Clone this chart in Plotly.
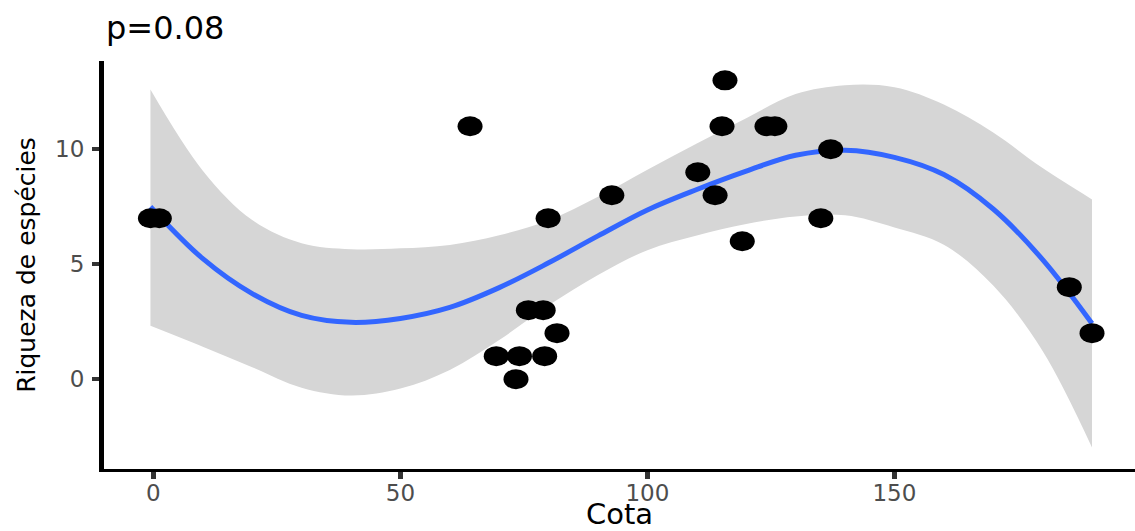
import plotly.graph_objects as go

cota = [-0.6, 1.2, 64.1, 69.4, 73.4, 74.1, 75.9, 78.9, 79.2, 79.9, 81.7, 92.8,
        110.2, 113.7, 115.1, 115.7, 119.2, 124.2, 125.8, 135.1, 137.1, 185.4, 190.0]
riqueza = [7, 7, 11, 1, 0, 1, 3, 3, 1, 7, 2, 8,
           9, 8, 11, 13, 6, 11, 11, 7, 10, 4, 2]

# Smooth curve and confidence band
fit_x = [-0.6, 10, 20, 30, 40, 50, 60, 70, 80, 90, 100, 110, 120, 130, 140, 150, 160, 170, 180, 190]
fit_y = [7.5, 5.24, 3.72, 2.77, 2.47, 2.64, 3.12, 3.98, 5.06, 6.23, 7.36, 8.25, 9.05, 9.74, 9.96,
         9.65, 8.9, 7.4, 5.2, 2.42]
fit_upper = [12.6, 9.07, 6.92, 5.91, 5.65, 5.69, 5.84, 6.26, 6.91, 7.93, 9.11, 10.25, 11.35, 12.40,
             12.79, 12.70, 11.95, 10.73, 9.18, 7.82]
fit_lower = [2.32, 1.41, 0.52, -0.37, -0.71, -0.41, 0.40, 1.70, 3.21, 4.53, 5.61, 6.25, 6.75, 7.08,
             7.13, 6.60, 5.85, 4.07, 1.22, -2.98]

x_ticks = [0, 50, 100, 150]
y_ticks = [0, 5, 10]
title_text = "p=0.08"
x_title = "Cota"
y_title = "Riqueza de espécies"

FONT = "DejaVu Sans, Liberation Sans, sans-serif"

fig = go.Figure()
fig.add_trace(go.Scatter(x=fit_x, y=fit_lower, mode="lines", line=dict(width=0, shape="spline"),
                         hoverinfo="skip", showlegend=False))
fig.add_trace(go.Scatter(x=fit_x, y=fit_upper, mode="lines", line=dict(width=0, shape="spline"),
                         fill="tonexty", fillcolor="#D6D6D6", hoverinfo="skip", showlegend=False))
fig.add_trace(go.Scatter(x=fit_x, y=fit_y, mode="lines", line=dict(color="#3366FF", width=5, shape="spline"),
                         showlegend=False))
fig.add_trace(go.Scatter(x=cota, y=riqueza, mode="markers",
                         marker=dict(color="black", size=16, line=dict(width=0)), showlegend=False))

# elliptical points (anchored at data coordinates, sized in pixels)
shapes = []
for xv, yv in zip(cota, riqueza):
    shapes.append(dict(type="circle", xref="x", yref="y", xsizemode="pixel", ysizemode="pixel",
                       xanchor=xv, yanchor=yv, x0=-12.5, x1=12.5, y0=-10, y1=10,
                       fillcolor="black", line=dict(width=0), layer="above"))

fig.update_layout(
    width=1135, height=531,
    margin=dict(l=104, r=0, t=61, b=62),
    plot_bgcolor="white", paper_bgcolor="white",
    shapes=shapes,
    font=dict(family=FONT, color="black"),
    xaxis=dict(range=[-10.0, 198.7], tickvals=x_ticks, ticktext=[str(v) for v in x_ticks],
               automargin=False,
               showgrid=False, zeroline=False, showline=True, linecolor="black", linewidth=2.5,
               ticks="outside", ticklen=7, tickwidth=5, tickcolor="#333333",
               tickfont=dict(size=23, color="#4D4D4D", family=FONT), ticklabelstandoff=-5,
               title=dict(text=x_title, font=dict(size=29, color="black", family=FONT), standoff=10)),
    yaxis=dict(range=[-3.91, 13.84], tickvals=y_ticks, ticktext=[str(v) for v in y_ticks],
               automargin=False,
               showgrid=False, zeroline=False, showline=True, linecolor="black", linewidth=5,
               ticks="outside", ticklen=7, tickwidth=4, tickcolor="#333333",
               tickfont=dict(size=23, color="#4D4D4D", family=FONT), ticklabelstandoff=3,
               title=dict(text=y_title, font=dict(size=25, color="black", family=FONT), standoff=14)),
    annotations=[dict(text=title_text, xref="paper", yref="paper", x=0, y=1, xanchor="left",
                      yanchor="bottom", yshift=12, showarrow=False,
                      font=dict(size=32, color="black", family=FONT))],
)

fig.write_html("out.html", config={"displayModeBar": False},
               post_script="document.body.style.margin='0';")
